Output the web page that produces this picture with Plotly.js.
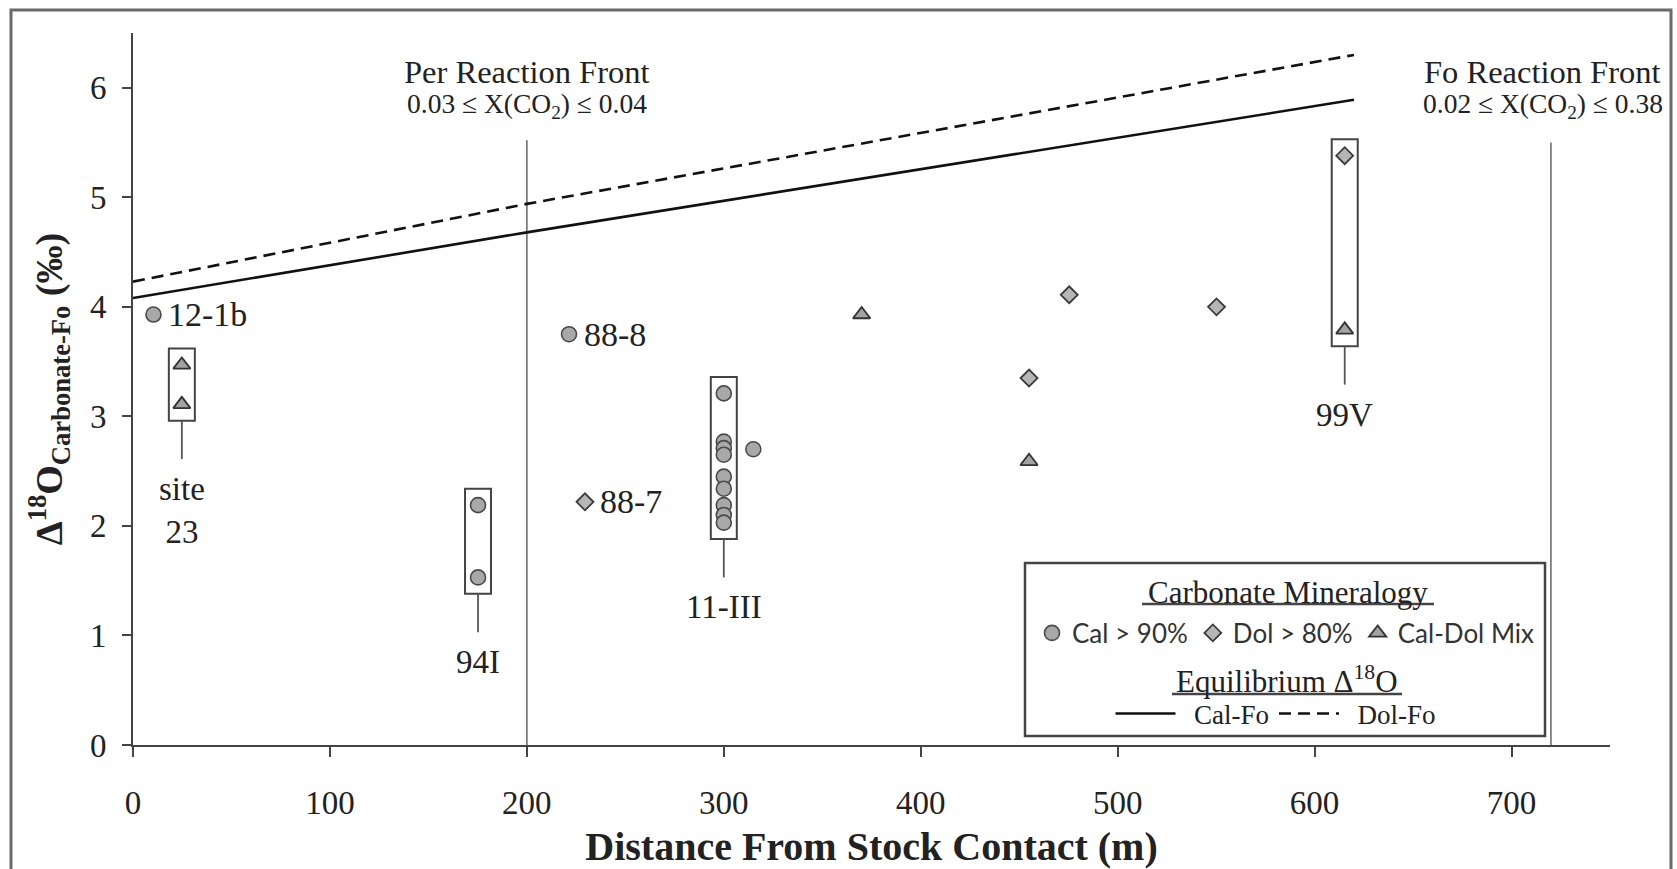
<!DOCTYPE html>
<html>
<head>
<meta charset="utf-8">
<script src="https://cdn.plot.ly/plotly-3.0.1.min.js"></script>
<style>
  html, body { margin: 0; padding: 0; background: #ffffff; }
  #chart { width: 1677px; height: 869px; }
</style>
</head>
<body>
<div id="chart"></div>
<script>
// ---- Sample data: distance from stock contact (m) vs Δ18O carbonate–forsterite (‰) ----

// Calcite-dominated samples (Cal > 90%)
const calX = [10.4, 175.2, 175.2, 221.4, 300, 300, 300, 300, 300, 300, 300, 300, 300, 315];
const calY = [3.93, 2.19, 1.53, 3.75, 3.21, 2.77, 2.71, 2.65, 2.45, 2.34, 2.19, 2.10, 2.03, 2.70];
const calLabel = ['12-1b', '', '', '88-8', '', '', '', '', '', '', '', '', '', ''];
const calGroup = ['', '94I', '94I', '', '11-III', '11-III', '11-III', '11-III', '11-III',
                  '11-III', '11-III', '11-III', '11-III', ''];

// Dolomite-dominated samples (Dol > 80%)
const dolX = [229.5, 455, 475.4, 550.2, 615.3];
const dolY = [2.22, 3.35, 4.11, 4.00, 5.38];
const dolLabel = ['88-7', '', '', '', ''];
const dolGroup = ['', '', '', '', '99V'];

// Mixed calcite–dolomite samples
const mixX = [24.8, 24.8, 370, 455, 615.3];
const mixY = [3.47, 3.11, 3.93, 2.59, 3.79];
const mixLabel = ['', '', '', '', ''];
const mixGroup = ['site 23', 'site 23', '', '', '99V'];

// Sample sites that hold several analyses
const groupNames = ['site 23', '94I', '11-III', '99V'];
const groupText = ['site<br>23', '94I', '11-III', '99V'];

// Equilibrium fractionation curves
const eqX = [0, 200, 620];
const calFoY = [4.08, 4.68, 5.89];
const dolFoY = [4.23, 4.94, 6.30];

// Reaction fronts
const frontX = [200, 720];
const frontTop = [5.52, 5.50];
const frontTitle = ['Per Reaction Front', 'Fo Reaction Front'];
const frontRange = ['0.03 \u2264 X(CO<sub>2</sub>) \u2264 0.04', '0.02 \u2264 X(CO<sub>2</sub>) \u2264 0.38'];

// Axis ticks
const xTicks = [0, 100, 200, 300, 400, 500, 600, 700];
const yTicks = [0, 1, 2, 3, 4, 5, 6];

// ---- Layout geometry (pixels) ----
const W = 1677, H = 869;
const ML = 133, MR = 67, MT = 33, MB = 124;
const PW = W - ML - MR, PH = H - MT - MB;
const px = v => (v - ML) / PW;          // container x pixel -> paper
const py = v => (H - MB - v) / PH;      // container y pixel -> paper

const SERIF = '"Liberation Serif", "Times New Roman", serif';
const SANS = 'Lato, "Open Sans", sans-serif';
const INK = '#222222';
const GAP = '\u2002';                   // spacing between a legend line and its name

// ---- Traces ----
const traces = [
  {
    type: 'scatter', mode: 'markers', name: 'Cal > 90%', legend: 'legend',
    x: calX, y: calY,
    marker: { symbol: 'circle', size: 15, color: '#a8a8a8', line: { color: '#4a4a4a', width: 1.6 } },
    hoverinfo: 'x+y'
  },
  {
    type: 'scatter', mode: 'markers', name: 'Dol > 80%', legend: 'legend',
    x: dolX, y: dolY,
    marker: { symbol: 'diamond', size: 13, color: '#b6b6b6', line: { color: '#3a3a3a', width: 1.8 } },
    hoverinfo: 'x+y'
  },
  {
    type: 'scatter', mode: 'markers', name: 'Cal-Dol Mix', legend: 'legend',
    x: mixX, y: mixY,
    marker: { symbol: 'triangle-up', size: 15, color: '#a2a2a2', line: { color: '#333333', width: 1.8 } },
    hoverinfo: 'x+y'
  },
  {
    type: 'scatter', mode: 'lines', name: GAP + 'Cal-Fo', legend: 'legend2',
    x: eqX, y: calFoY,
    line: { color: '#111111', width: 2.6 },
    hoverinfo: 'skip'
  },
  {
    type: 'scatter', mode: 'lines', name: GAP + 'Dol-Fo', legend: 'legend2',
    x: eqX, y: dolFoY,
    line: { color: '#111111', width: 2.6, dash: '12px,7px' },
    hoverinfo: 'skip'
  }
];

// ---- Shapes & annotations ----
const shapes = [];
const annotations = [];

// Outer frame of the figure
shapes.push({
  type: 'rect', xref: 'paper', yref: 'paper',
  x0: px(11), x1: px(1671), y0: py(900), y1: py(10),
  line: { color: '#6a6a6a', width: 3 }
});

// Reaction-front verticals and their captions
frontX.forEach((fx, i) => {
  shapes.push({
    type: 'line', xref: 'x', yref: 'y', layer: 'below',
    x0: fx, x1: fx, y0: 0, y1: frontTop[i],
    line: { color: '#6e6e6e', width: 1.6 }
  });
  const shift = i === 0 ? 0 : -8;
  annotations.push({
    xref: 'x', yref: 'paper', x: fx, y: py(72), xshift: shift,
    text: frontTitle[i], showarrow: false, xanchor: 'center', yanchor: 'middle',
    font: { family: SERIF, size: 32.5, color: INK }
  });
  annotations.push({
    xref: 'x', yref: 'paper', x: fx, y: py(106), xshift: shift,
    text: frontRange[i], showarrow: false, xanchor: 'center', yanchor: 'middle',
    font: { family: SERIF, size: 27.5, color: INK }
  });
});

// Labels attached to single samples
function labelPoints(xs, ys, labels) {
  labels.forEach((t, i) => {
    if (!t) return;
    annotations.push({
      xref: 'x', yref: 'y', x: xs[i], y: ys[i], xshift: 13,
      text: t, showarrow: false, xanchor: 'left', yanchor: 'middle',
      font: { family: SERIF, size: 34, color: INK }
    });
  });
}
labelPoints(calX, calY, calLabel);
labelPoints(dolX, dolY, dolLabel);
labelPoints(mixX, mixY, mixLabel);

// Boxes around multi-analysis sites, with a stem and the site name underneath
const BOX_PAD = 0.15, STEM = 0.35;
groupNames.forEach((g, gi) => {
  const xs = [], ys = [];
  [[calX, calY, calGroup], [dolX, dolY, dolGroup], [mixX, mixY, mixGroup]].forEach(([sx, sy, sg]) => {
    sg.forEach((name, i) => { if (name === g) { xs.push(sx[i]); ys.push(sy[i]); } });
  });
  const gx = xs.reduce((a, b) => a + b, 0) / xs.length;
  const top = Math.max(...ys) + BOX_PAD;
  const bottom = Math.min(...ys) - BOX_PAD;
  shapes.push({
    type: 'rect', xref: 'x', yref: 'y', xsizemode: 'pixel', xanchor: gx,
    x0: -13, x1: 13, y0: bottom, y1: top,
    line: { color: '#444444', width: 2 }
  });
  shapes.push({
    type: 'line', xref: 'x', yref: 'y',
    x0: gx, x1: gx, y0: bottom, y1: bottom - STEM,
    line: { color: '#555555', width: 1.8 }
  });
  annotations.push({
    xref: 'x', yref: 'y', x: gx, y: bottom - STEM, yshift: -10,
    text: groupText[gi], showarrow: false, xanchor: 'center', yanchor: 'top',
    font: { family: SERIF, size: 33, color: INK }
  });
});

// Legend frame, headings and heading underlines
shapes.push({
  type: 'rect', xref: 'paper', yref: 'paper',
  x0: px(1025), x1: px(1545), y0: py(736), y1: py(563),
  line: { color: '#444444', width: 2.5 }, fillcolor: 'rgba(255,255,255,0)'
});
annotations.push({
  xref: 'paper', yref: 'paper', x: px(1288), y: py(592),
  text: 'Carbonate Mineralogy', showarrow: false, xanchor: 'center', yanchor: 'middle',
  font: { family: SERIF, size: 31, color: INK }
});
shapes.push({
  type: 'line', xref: 'paper', yref: 'paper',
  x0: px(1142), x1: px(1434), y0: py(604), y1: py(604),
  line: { color: '#444444', width: 2.5 }
});
annotations.push({
  xref: 'paper', yref: 'paper', x: px(1287), y: py(679),
  text: 'Equilibrium \u0394<sup>18</sup>O', showarrow: false, xanchor: 'center', yanchor: 'middle',
  font: { family: SERIF, size: 31, color: INK }
});
shapes.push({
  type: 'line', xref: 'paper', yref: 'paper',
  x0: px(1172), x1: px(1402), y0: py(694), y1: py(694),
  line: { color: '#444444', width: 2.5 }
});

// ---- Layout ----
const axisCommon = {
  showline: true, linecolor: '#444444', linewidth: 2,
  ticks: 'outside', tickcolor: '#444444', tickwidth: 1.5,
  showgrid: false, zeroline: false, fixedrange: true,
  tickfont: { family: SERIF, size: 33, color: INK }
};

const layout = {
  width: W, height: H,
  margin: { l: ML, r: MR, t: MT, b: MB, pad: 0 },
  paper_bgcolor: '#ffffff', plot_bgcolor: '#ffffff',
  xaxis: Object.assign({}, axisCommon, {
    range: [0, 750], tickvals: xTicks, ticktext: xTicks.map(String),
    ticklen: 10, ticklabelstandoff: 17,
    title: {
      text: 'Distance From Stock Contact (m)', standoff: 12,
      font: { family: SERIF, size: 40, color: INK, weight: 700 }
    }
  }),
  yaxis: Object.assign({}, axisCommon, {
    range: [0, 6.5], tickvals: yTicks, ticktext: yTicks.map(String),
    ticklen: 9, ticklabelstandoff: 9,
    title: {
      text: '\u0394<sup>18</sup>O<sub>Carbonate-Fo</sub> (\u2030)', standoff: 16,
      font: { family: SERIF, size: 38, color: INK, weight: 700 }
    }
  }),
  showlegend: true,
  legend: {
    orientation: 'h', xref: 'paper', yref: 'paper',
    x: px(1286), xanchor: 'center', y: py(633), yanchor: 'middle',
    bgcolor: 'rgba(0,0,0,0)', borderwidth: 0, itemwidth: 30,
    font: { family: SANS, size: 26, color: '#333333' },
    itemclick: false, itemdoubleclick: false
  },
  legend2: {
    orientation: 'h', xref: 'paper', yref: 'paper',
    x: px(1276), xanchor: 'center', y: py(714), yanchor: 'middle',
    bgcolor: 'rgba(0,0,0,0)', borderwidth: 0, itemwidth: 60,
    font: { family: SERIF, size: 27, color: INK },
    itemclick: false, itemdoubleclick: false
  },
  shapes: shapes,
  annotations: annotations
};

Plotly.newPlot('chart', traces, layout, { displayModeBar: false, responsive: false });
</script>
</body>
</html>
